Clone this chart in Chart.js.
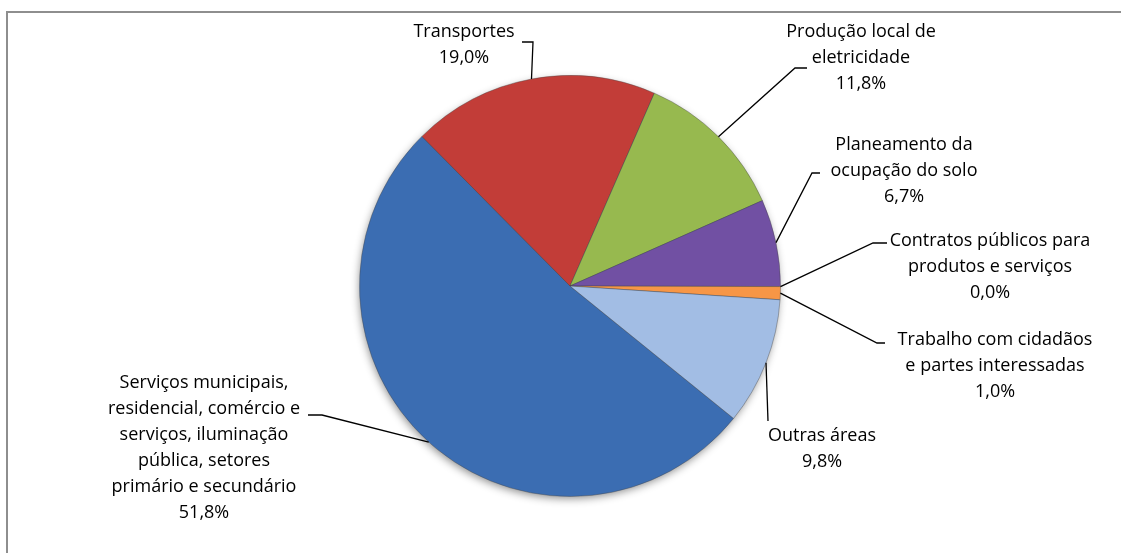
<!DOCTYPE html>
<html>
<head>
<meta charset="utf-8">
<script src="https://cdn.jsdelivr.net/npm/chart.js@4.4.0/dist/chart.umd.min.js"></script>
<style>
    html, body { margin: 0; padding: 0; background: #fff; }
    #wrap { position: relative; width: 1121px; height: 553px; overflow: hidden; }
    #frame { position: absolute; left: 6px; top: 11px; width: 1200px; height: 600px;
             border-left: 2px solid #8e8e8e; border-top: 2px solid #8e8e8e; }
    canvas { position: absolute; left: 0; top: 0; }
</style>
</head>
<body>
<div id="wrap">
    <div id="frame"></div>
    <canvas id="pieChart" width="1121" height="553"></canvas>
</div>
<script>
const categories = [
    ['Serviços municipais,', 'residencial, comércio e', 'serviços, iluminação', 'pública, setores', 'primário e secundário'],
    ['Transportes'],
    ['Produção local de', 'eletricidade'],
    ['Planeamento da', 'ocupação do solo'],
    ['Contratos públicos para', 'produtos e serviços'],
    ['Trabalho com cidadãos', 'e partes interessadas'],
    ['Outras áreas']
];
const shares = [51.8, 19.0, 11.8, 6.7, 0.0, 1.0, 9.8];
const baseColors = ['#3b6db2', '#c23d38', '#97b94f', '#7150a3', '#4bacc6', '#f79646', '#a2bde4'];
const rimColors  = ['#2a5290', '#962826', '#739633', '#543781', '#318ea6', '#d3712a', '#7a98c6'];

// label layout: text centre x, first line centre y, and elbow points of the leader line
const labelPos = [
    { x: 204, y: 383, tail: [[308, 415], [322, 415]] },
    { x: 464, y: 32,  tail: [[522, 42], [533, 42]] },
    { x: 861, y: 32,  tail: [[807, 68], [795, 68]] },
    { x: 904, y: 145, tail: [[820, 173], [812, 173]] },
    { x: 990, y: 241, tail: [[887, 243], [873, 243]] },
    { x: 995, y: 340, tail: [[885, 343], [877, 343]] },
    { x: 822, y: 436, tail: [[768, 421]] }
];
const lineHeight = 25.9;

const pctText = v => v.toFixed(1).replace('.', ',') + '%';

const pieShadow = {
    id: 'pieShadow',
    beforeDatasetsDraw(chart) {
        const arc = chart.getDatasetMeta(0).data[0];
        const ctx = chart.ctx;
        ctx.save();
        ctx.shadowColor = 'rgba(0,0,0,0.45)';
        ctx.shadowBlur = 9;
        ctx.shadowOffsetX = -1;
        ctx.shadowOffsetY = 3;
        ctx.fillStyle = '#3b6db2';
        ctx.beginPath();
        ctx.arc(arc.x, arc.y, arc.outerRadius - 1, 0, Math.PI * 2);
        ctx.fill();
        ctx.restore();
    }
};

const leaderLabels = {
    id: 'leaderLabels',
    afterDatasetsDraw(chart) {
        const ctx = chart.ctx;
        const meta = chart.getDatasetMeta(0);
        ctx.save();
        meta.data.forEach((arc, i) => {
            const p = labelPos[i];
            const mid = (arc.startAngle + arc.endAngle) / 2;
            const ex = arc.x + Math.cos(mid) * arc.outerRadius;
            const ey = arc.y + Math.sin(mid) * arc.outerRadius;

            ctx.strokeStyle = '#000';
            ctx.lineWidth = 1.3;
            ctx.beginPath();
            ctx.moveTo(p.tail[0][0], p.tail[0][1]);
            p.tail.slice(1).forEach(pt => ctx.lineTo(pt[0], pt[1]));
            ctx.lineTo(ex, ey);
            ctx.stroke();

            const lines = categories[i].concat([pctText(shares[i])]);
            ctx.fillStyle = '#000';
            ctx.font = '18px "Open Sans"';
            ctx.textAlign = 'center';
            ctx.textBaseline = 'middle';
            lines.forEach((t, k) => ctx.fillText(t, p.x, p.y + k * lineHeight));
        });
        ctx.restore();
    }
};

function sliceFill(context) {
    const chart = context.chart;
    const arc = chart.getDatasetMeta(0).data[context.dataIndex];
    if (!arc || !arc.outerRadius) return baseColors[context.dataIndex];
    const g = chart.ctx.createRadialGradient(arc.x, arc.y, 0, arc.x, arc.y, arc.outerRadius);
    g.addColorStop(0, baseColors[context.dataIndex]);
    g.addColorStop(0.84, baseColors[context.dataIndex]);
    g.addColorStop(1, rimColors[context.dataIndex]);
    return g;
}

new Chart(document.getElementById('pieChart'), {
    type: 'pie',
    data: {
        labels: categories.map(c => c.join(' ')),
        datasets: [{
            data: shares,
            backgroundColor: sliceFill,
            borderColor: 'rgba(70,70,70,0.4)',
            borderWidth: 1
        }]
    },
    options: {
        responsive: false,
        animation: false,
        rotation: 129,
        layout: { padding: { left: 359, right: 340, top: 75, bottom: 56 } },
        plugins: {
            legend: { display: false },
            tooltip: { enabled: false }
        }
    },
    plugins: [pieShadow, leaderLabels]
});
</script>
</body>
</html>
